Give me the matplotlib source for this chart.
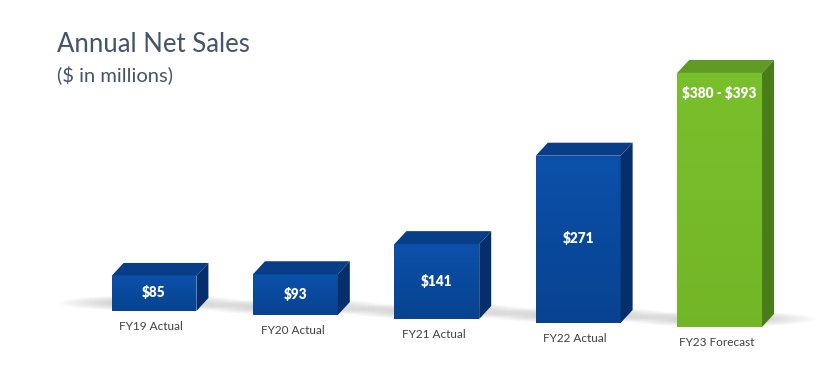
import matplotlib
matplotlib.use("Agg")
import matplotlib.pyplot as plt
import numpy as np
from matplotlib.patches import Polygon, Ellipse
from matplotlib.transforms import IdentityTransform
from matplotlib.colors import to_rgb

# ---- data ----
categories = ["FY19 Actual", "FY20 Actual", "FY21 Actual", "FY22 Actual", "FY23 Forecast"]
values = [85, 93, 141, 271, 393]
value_labels = ["$85", "$93", "$141", "$271", "$380 - $393"]
is_forecast = [False, False, False, False, True]

title = "Annual Net Sales"
subtitle = "($ in millions)"

# ---- style ----
W, H, DPI = 831, 373, 100
FONT = "Lato"
floor = 35.7          # visible base of the (truncated) value axis
px_per_unit = 0.711   # vertical scale
tilt = 4.0            # px drop of the floor per bar (perspective)
depth_dx, depth_dy = 12.0, 13.0
bar_w = 0.60

blue = dict(front_top="#0a50aa", front_bot="#07428f", top="#083d87", side="#052f6b")
green = dict(front_top="#79bf2b", front_bot="#72b627", top="#5f9b23", side="#497c1a")

fig = plt.figure(figsize=(W / DPI, H / DPI), dpi=DPI)
fig.patch.set_facecolor("white")
ax_bottom = 62
ax_h = 291
ax = fig.add_axes([83.3 / W, ax_bottom / H, 707 / W, ax_h / H])
ax.set_xlim(-0.5, len(values) - 0.5)
ax.set_ylim(floor, floor + ax_h / px_per_unit)
ax.axis("off")

ident = IdentityTransform()


def lerp(c1, c2, t):
    a, b = np.array(to_rgb(c1)), np.array(to_rgb(c2))
    return tuple(a + (b - a) * t)


for i, (v, fc) in enumerate(zip(values, is_forecast)):
    pal = green if fc else blue
    (x0, y0) = ax.transData.transform((i - bar_w / 2, floor))
    (x1, y1) = ax.transData.transform((i + bar_w / 2, v))
    y0 -= tilt * i
    y1 -= tilt * i

    # soft floor shadow
    for k in range(12):
        t = k / 11
        ew = 190 - 110 * t
        eh = 16 - 10 * t
        ax.add_patch(Ellipse(((x0 + x1) / 2, y0 + 8), ew, eh, transform=ident,
                             facecolor="#8a8a8a", edgecolor="none", alpha=0.035,
                             zorder=1, clip_on=False))

    # front face with vertical gradient
    n = 40
    for k in range(n):
        ya = y0 + (y1 - y0) * k / n
        yb = y0 + (y1 - y0) * (k + 1) / n + 0.6
        col = lerp(pal["front_bot"], pal["front_top"], (k + 0.5) / n)
        ax.add_patch(Polygon([(x0, ya), (x1, ya), (x1, min(yb, y1)), (x0, min(yb, y1))],
                             closed=True, transform=ident, facecolor=col,
                             edgecolor="none", zorder=3, clip_on=False))
    # top face
    ax.add_patch(Polygon([(x0, y1), (x1, y1), (x1 + depth_dx, y1 + depth_dy), (x0 + depth_dx, y1 + depth_dy)],
                         closed=True, transform=ident, facecolor=pal["top"], edgecolor="none",
                         zorder=3, clip_on=False))
    # side face
    ax.add_patch(Polygon([(x1, y0), (x1 + depth_dx, y0 + depth_dy), (x1 + depth_dx, y1 + depth_dy), (x1, y1)],
                         closed=True, transform=ident, facecolor=pal["side"], edgecolor="none",
                         zorder=3, clip_on=False))

    # value label
    cx = (x0 + x1) / 2
    if fc:
        ly = y1 - 20
    else:
        ly = (y0 + y1) / 2 + 1
    ax.text(cx, ly, value_labels[i], transform=ident, ha="center", va="center",
            color="white", fontsize=9.8, fontweight="heavy", family=FONT, zorder=5,
            parse_math=False)

    # category label
    ax.text(cx - 3, y0 - 15, categories[i], transform=ident, ha="center", va="center",
            color="#404040", fontsize=8.5, family=FONT, zorder=5)

fig.text(57 / W, 1 - 45 / H, title, ha="left", va="center", fontsize=18.5,
         color="#44546a", family=FONT)
fig.text(57 / W, 1 - 75 / H, subtitle, ha="left", va="center", fontsize=14.5,
         color="#44546a", family=FONT, parse_math=False)

fig.savefig("out.png", dpi=DPI, facecolor="white")
